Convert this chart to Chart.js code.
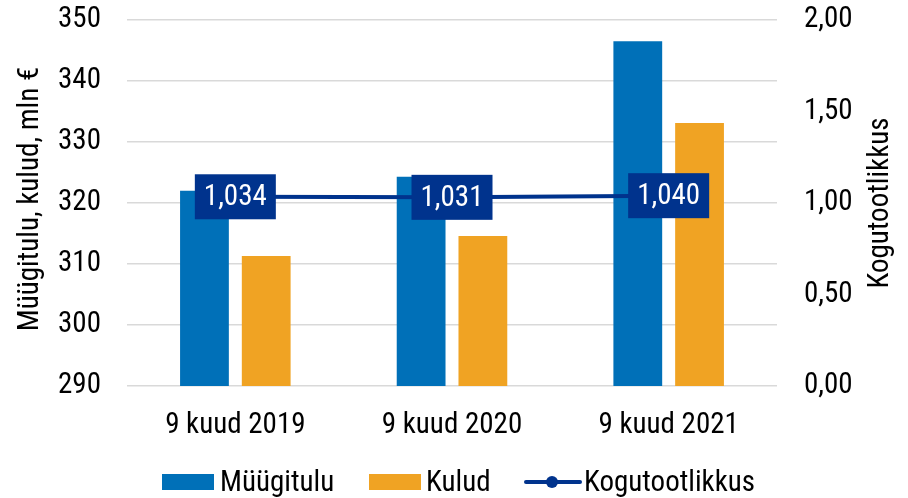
<!DOCTYPE html>
<html><head><meta charset="utf-8">
<script src="https://cdn.jsdelivr.net/npm/chart.js@4.4.1/dist/chart.umd.min.js"></script>
<style>
html,body{margin:0;padding:0;background:#fff;}
#wrap{position:relative;width:908px;height:498px;}
#legend{position:absolute;left:0;top:464px;width:908px;height:34px;font-family:"Liberation Sans Narrow","Roboto Condensed",Roboto,sans-serif;font-size:29px;color:#000;}
.li{position:absolute;top:0;height:34px;line-height:34px;white-space:nowrap;}
.sw{position:absolute;top:10px;height:16px;width:52px;}
</style></head>
<body>
<div id="wrap"><canvas id="c" width="908" height="498"></canvas>
<div id="legend">
 <div class="li" style="left:162px"><span class="sw" style="left:0;background:#0070B8"></span><span style="position:absolute;left:58px">Müügitulu</span></div>
 <div class="li" style="left:369px"><span class="sw" style="left:0;background:#F0A323"></span><span style="position:absolute;left:57px">Kulud</span></div>
 <div class="li" style="left:524px"><svg style="position:absolute;left:0;top:8px" width="58" height="20"><line x1="2" y1="10" x2="56" y2="10" stroke="#00338D" stroke-width="4" stroke-linecap="round"/><circle cx="28" cy="10" r="6" fill="#00338D"/></svg><span style="position:absolute;left:60px">Kogutootlikkus</span></div>
</div>
</div>
<script>
const categories = ["9 kuud 2019", "9 kuud 2020", "9 kuud 2021"];
const myygitulu = [322.0, 324.3, 346.5];
const kulud = [311.3, 314.6, 333.1];
const kogutootlikkus = [1.034, 1.031, 1.040];
const seriesNames = ["Müügitulu", "Kulud", "Kogutootlikkus"];
const leftTitle = "Müügitulu, kulud, mln €";
const rightTitle = "Kogutootlikkus";

const FONT = '"Liberation Sans Narrow","Roboto Condensed",Roboto,sans-serif';
const NAVY = '#00338D';
const fmt = (v, d) => v.toFixed(d).replace('.', ',');

const labelPlugin = {
  id: 'lbl',
  afterDatasetsDraw(chart) {
    const ctx = chart.ctx;
    const meta = chart.getDatasetMeta(2);
    ctx.save();
    ctx.font = '29px ' + FONT;
    ctx.textAlign = 'center';
    ctx.textBaseline = 'middle';
    meta.data.forEach((pt, i) => {
      const w = 81, h = 45;
      ctx.fillStyle = NAVY;
      ctx.fillRect(pt.x - w / 2, pt.y - h / 2, w, h);
      ctx.fillStyle = '#fff';
      ctx.fillText(fmt(kogutootlikkus[i], 3), pt.x, pt.y + 1);
    });
    ctx.restore();
  },
  afterDraw(chart) {
    const ctx = chart.ctx;
    const a = chart.chartArea;
    const cy = (a.top + a.bottom) / 2;
    ctx.save();
    ctx.font = '29px ' + FONT;
    ctx.fillStyle = '#000';
    ctx.textAlign = 'center';
    ctx.textBaseline = 'middle';
    ctx.translate(31, cy - 4);
    ctx.rotate(-Math.PI / 2);
    ctx.fillText(leftTitle, 0, 0);
    ctx.restore();
    ctx.save();
    ctx.font = '29px ' + FONT;
    ctx.fillStyle = '#000';
    ctx.textAlign = 'center';
    ctx.textBaseline = 'middle';
    ctx.translate(881, cy);
    ctx.rotate(-Math.PI / 2);
    ctx.fillText(rightTitle, 0, 0);
    ctx.restore();
  }
};

function fixV(w) {
  return function (s) { s.width = w; s.paddingTop = 0; s.paddingBottom = 0; };
}

new Chart(document.getElementById('c'), {
  type: 'bar',
  data: {
    labels: categories,
    datasets: [
      { label: seriesNames[0], data: myygitulu, backgroundColor: '#0070B8', yAxisID: 'y', order: 2, barPercentage: 0.79, categoryPercentage: 0.57 },
      { label: seriesNames[1], data: kulud, backgroundColor: '#F0A323', yAxisID: 'y', order: 2, barPercentage: 0.79, categoryPercentage: 0.57 },
      { label: seriesNames[2], data: kogutootlikkus, type: 'line', yAxisID: 'y1', borderColor: NAVY, borderWidth: 4, pointRadius: 0, order: 0, tension: 0 }
    ]
  },
  options: {
    responsive: false,
    animation: false,
    layout: { padding: { top: 20, bottom: 62, left: 0, right: 0 } },
    plugins: { legend: { display: false }, tooltip: { enabled: false } },
    scales: {
      x: {
        grid: { display: false },
        border: { display: false },
        ticks: { color: '#000', font: { family: FONT, size: 29 }, padding: 14 },
        afterFit(s) { s.height = 50; s.paddingLeft = 0; s.paddingRight = 0; }
      },
      y: {
        position: 'left', min: 290, max: 350,
        ticks: { stepSize: 10, color: '#000', font: { family: FONT, size: 29 }, padding: 26 },
        grid: { color: '#D9D9D9', lineWidth: 1.5, drawTicks: false },
        border: { display: false },
        afterFit: fixV(127)
      },
      y1: {
        position: 'right', min: 0, max: 2,
        ticks: { stepSize: 0.5, color: '#000', font: { family: FONT, size: 29 }, padding: 27, callback: v => fmt(v, 2) },
        grid: { display: false, drawTicks: false },
        border: { display: false },
        afterFit: fixV(131)
      }
    }
  },
  plugins: [labelPlugin]
});
</script>
</body></html>
